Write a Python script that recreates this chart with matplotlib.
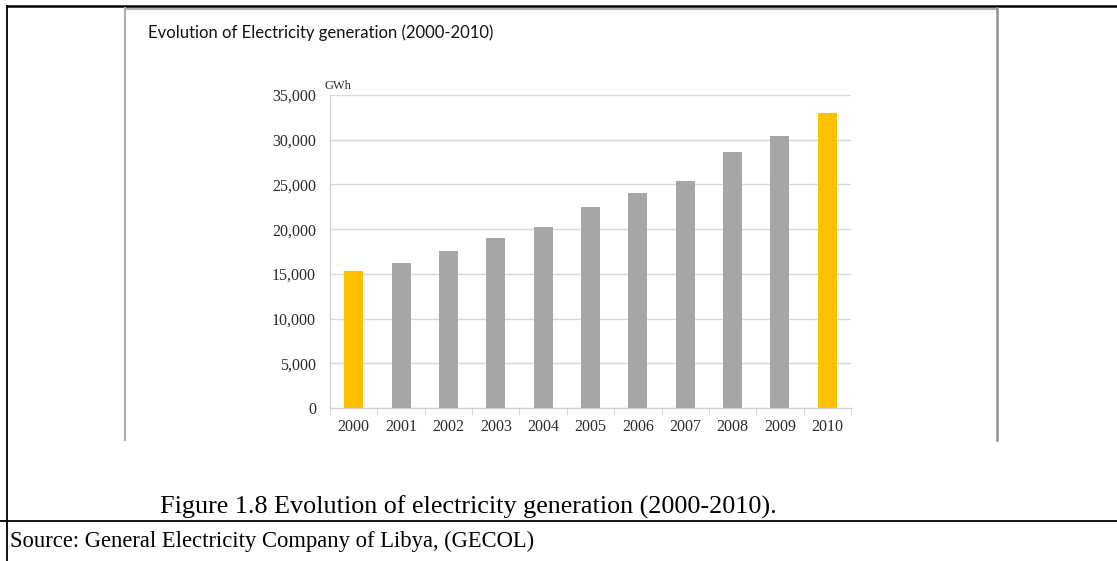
import matplotlib
matplotlib.use('Agg')
import matplotlib.pyplot as plt
from matplotlib.ticker import FuncFormatter

# data
years = ['2000', '2001', '2002', '2003', '2004', '2005',
         '2006', '2007', '2008', '2009', '2010']
gen_gwh = [15300, 16200, 17600, 19000, 20200, 22500,
           24000, 25400, 28600, 30400, 33000]
highlight = ['2000', '2010']

W, H = 1117, 561
fig = plt.figure(figsize=(W / 100, H / 100), dpi=100)
fig.patch.set_facecolor('white')

# page decoration (borders of the document table and inserted picture)
deco = fig.add_axes([0, 0, 1, 1])
deco.set_xlim(0, W)
deco.set_ylim(H, 0)
deco.axis('off')
deco.plot([7, W], [6, 6], color='black', lw=1.8)
deco.plot([7, 7], [6, H], color='black', lw=1.3)
deco.plot([0, W], [521, 521], color='black', lw=1.3)
deco.plot([125, 997], [8.5, 8.5], color='#b0b0b0', lw=1.5)
deco.plot([125, 125], [8, 440], color='#b0b0b0', lw=1.5)
deco.plot([997, 997], [8, 440], color='#909090', lw=1.8)

# chart title (inside the picture)
fig.text(148 / W, 1 - 33 / H, 'Evolution of Electricity generation (2000-2010)',
         family='Lato', fontsize=12, color='#111111', va='center', ha='left')

# bar chart
left, right, top, bottom = 330, 851, 95, 408
ax = fig.add_axes([left / W, 1 - bottom / H, (right - left) / W, (bottom - top) / H])
colors = ['#ffc000' if y in highlight else '#a6a6a6' for y in years]
ax.bar(range(len(years)), gen_gwh, width=0.4, color=colors, zorder=3)
ax.set_xlim(-0.5, len(years) - 0.5)
ax.set_ylim(0, 35000)
ax.set_yticks(range(0, 35001, 5000))
ax.yaxis.set_major_formatter(FuncFormatter(lambda v, p: f'{int(v):,}'))
ax.set_xticks(range(len(years)))
ax.set_xticklabels(years)
ax.set_xticks([i - 0.5 for i in range(len(years) + 1)], minor=True)
ax.grid(axis='y', color='#d9d9d9', lw=1, zorder=0)
for s in ['top', 'right']:
    ax.spines[s].set_visible(False)
ax.spines['left'].set_color('#d0d0d0')
ax.spines['bottom'].set_color('#d0d0d0')
ax.tick_params(axis='x', which='major', length=0, pad=8)
ax.tick_params(axis='x', which='minor', length=5, color='#d0d0d0')
ax.tick_params(axis='y', length=0, pad=10)
for lab in ax.get_xticklabels() + ax.get_yticklabels():
    lab.set_family('Liberation Serif')
    lab.set_fontsize(11.5)
    lab.set_color('#2a2a2a')
ax.text(-0.01, 1.01, 'GWh', transform=ax.transAxes, family='Liberation Serif',
        fontsize=9, color='#2a2a2a', ha='left', va='bottom')

# caption and source
fig.text(468 / W, 1 - 507 / H, 'Figure 1.8 Evolution of electricity generation (2000-2010).',
         family='Liberation Serif', fontsize=18.8, ha='center', va='center')
fig.text(10 / W, 1 - 541 / H, 'Source: General Electricity Company of Libya, (GECOL)',
         family='Liberation Serif', fontsize=16.3, ha='left', va='center')

fig.savefig('out.png', dpi=100)
